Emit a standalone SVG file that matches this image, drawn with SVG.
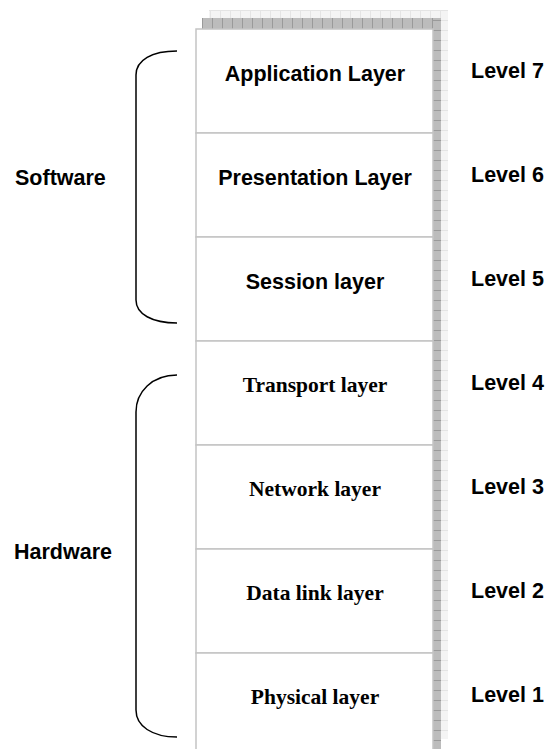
<svg xmlns="http://www.w3.org/2000/svg" width="548" height="749" viewBox="0 0 548 749">
<defs>
<pattern id="lightgrid" x="0" y="0" width="10" height="10" patternUnits="userSpaceOnUse">
<rect width="10" height="10" fill="#f4f4f4"/>
<path d="M0,0.5 H10 M0.5,0 V10" stroke="#e4e4e4" stroke-width="1" fill="none"/>
</pattern>
<pattern id="darkv" x="2" y="0" width="10" height="10" patternUnits="userSpaceOnUse">
<rect width="10" height="10" fill="#bcbcbc"/>
<path d="M0.5,0 V10" stroke="#9a9a9a" stroke-width="1"/>
</pattern>
<pattern id="darkh" x="0" y="0" width="10" height="10" patternUnits="userSpaceOnUse">
<rect width="10" height="10" fill="#bcbcbc"/>
<path d="M0,0.5 H10" stroke="#9a9a9a" stroke-width="1"/>
</pattern>
</defs>
<style>
.box{fill:#ffffff;stroke:#c4c4c4;stroke-width:1.5}
.sans{font-family:"Liberation Sans",Arial,sans-serif;font-weight:bold;font-size:21.5px;fill:#000}
.serif{font-family:"Liberation Serif","Times New Roman",serif;font-weight:bold;font-size:21.5px;fill:#000}
.brace{fill:none;stroke:#000;stroke-width:1.5}
</style>
<g id="shadow">
<rect x="209" y="10" width="239" height="729" fill="url(#lightgrid)"/>
<rect x="202" y="18" width="239" height="11" fill="url(#darkv)"/>
<rect x="433" y="18" width="8" height="731" fill="url(#darkh)"/>
</g>
<g id="layer7"><rect class="box" x="196" y="29" width="237" height="104"/><text class="sans" x="315" y="81" text-anchor="middle">Application Layer</text></g>
<g id="layer6"><rect class="box" x="196" y="133" width="237" height="104"/><text class="sans" x="315" y="185" text-anchor="middle">Presentation Layer</text></g>
<g id="layer5"><rect class="box" x="196" y="237" width="237" height="104"/><text class="sans" x="315" y="289" text-anchor="middle">Session layer</text></g>
<g id="layer4"><rect class="box" x="196" y="341" width="237" height="104"/><text class="serif" x="315" y="392" text-anchor="middle">Transport layer</text></g>
<g id="layer3"><rect class="box" x="196" y="445" width="237" height="104"/><text class="serif" x="315" y="496" text-anchor="middle">Network layer</text></g>
<g id="layer2"><rect class="box" x="196" y="549" width="237" height="104"/><text class="serif" x="315" y="600" text-anchor="middle">Data link layer</text></g>
<g id="layer1"><rect class="box" x="196" y="653" width="237" height="110"/><text class="serif" x="315" y="704" text-anchor="middle">Physical layer</text></g>
<g id="levels">
<text class="sans" x="471" y="78">Level 7</text>
<text class="sans" x="471" y="182">Level 6</text>
<text class="sans" x="471" y="286">Level 5</text>
<text class="sans" x="471" y="390">Level 4</text>
<text class="sans" x="471" y="494">Level 3</text>
<text class="sans" x="471" y="598">Level 2</text>
<text class="sans" x="471" y="702">Level 1</text>
</g>
<g id="software">
<path class="brace" d="M177,51 C152,51 136,60 136,75 L136,300 C136,314 152,323 177,323"/>
<text class="sans" x="15" y="185">Software</text>
</g>
<g id="hardware">
<path class="brace" d="M177,375 C152,375 136,392 136,412 L136,710 C136,726 152,737 177,737"/>
<text class="sans" x="14" y="559">Hardware</text>
</g>
</svg>
